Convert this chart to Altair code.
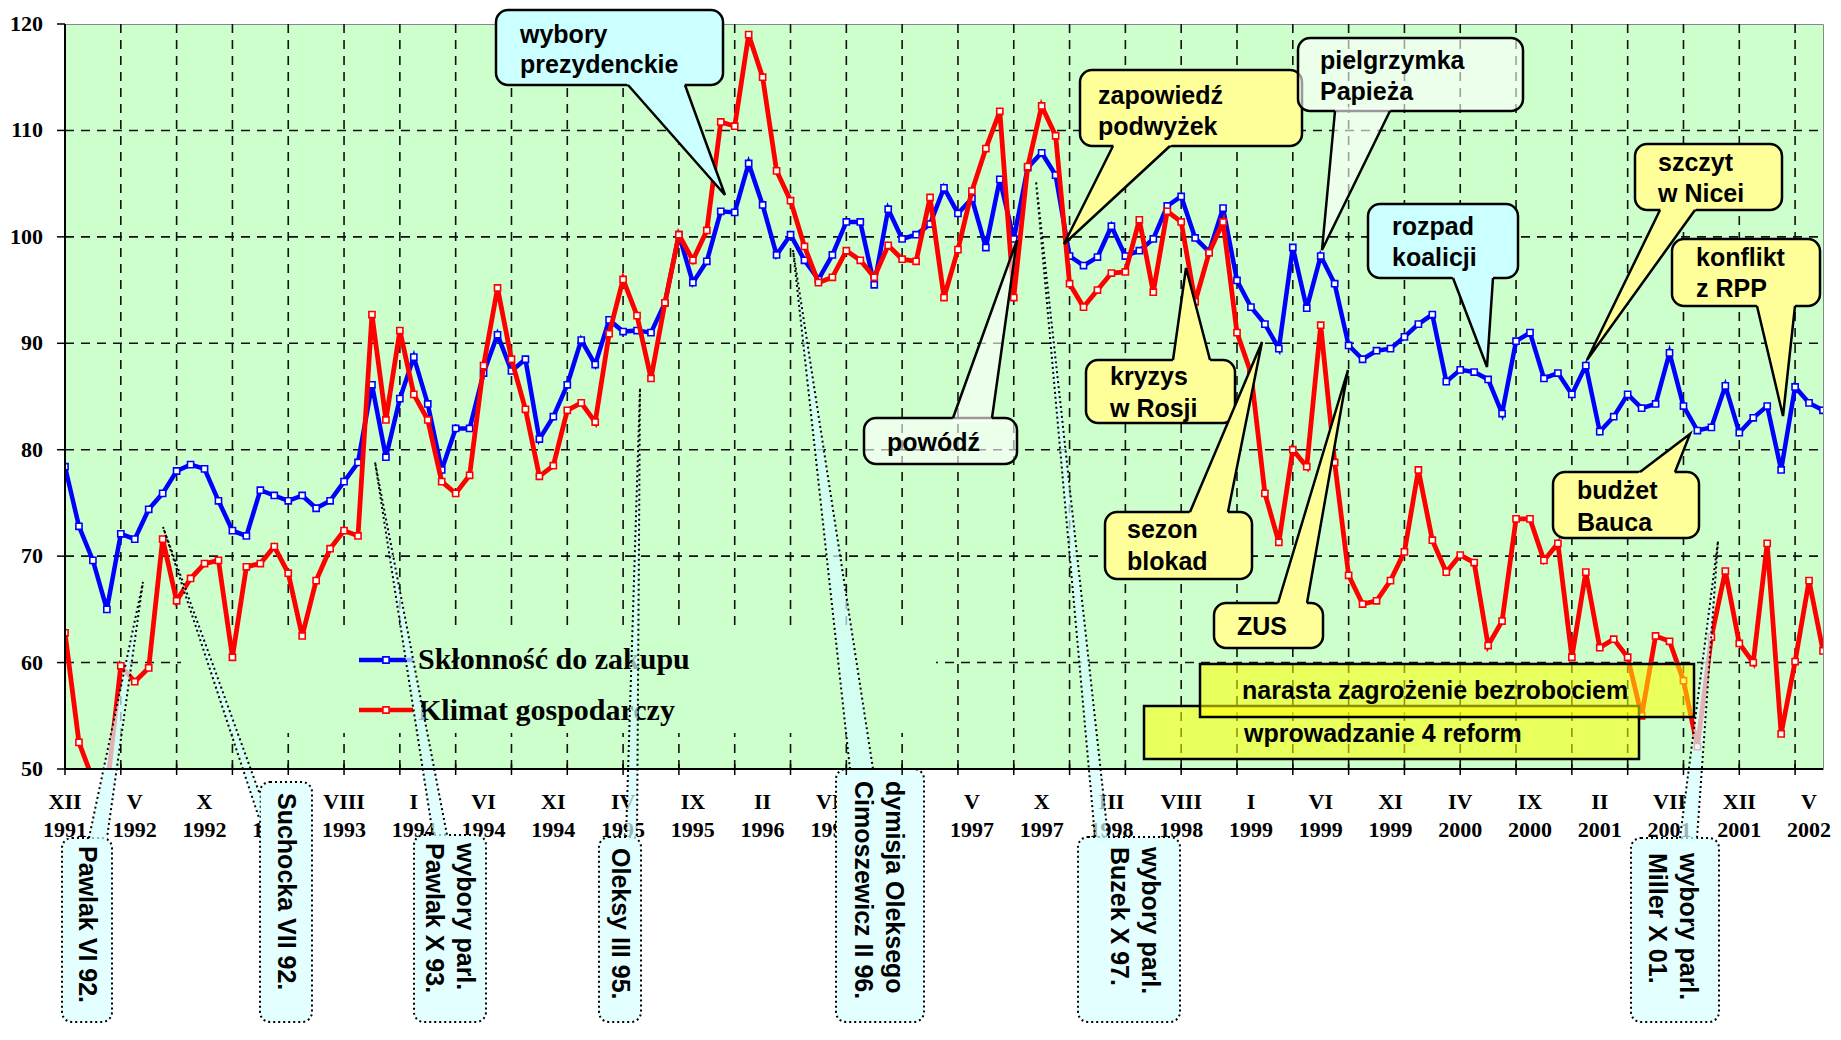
import math
import altair as alt
import pandas as pd

# ---------------- data ----------------
sklonnosc = [78.4, 72.8, 69.6, 65.0, 72.1, 71.6, 74.4, 75.9, 78.0, 78.6,
             78.2, 75.2, 72.4, 71.9, 76.2, 75.7, 75.2, 75.7, 74.5, 75.2,
             77.0, 78.8, 86.1, 79.3, 84.8, 88.7, 84.3, 78.1, 82.0, 82.0,
             87.2, 90.8, 87.4, 88.5, 81.0, 83.1, 86.1, 90.3, 88.0, 92.2,
             91.1, 91.2, 91.0, 93.8, 100.2, 95.7, 97.7, 102.4, 102.3, 106.9,
             103.0, 98.3, 100.2, 97.8, 96.0, 98.3, 101.4, 101.4, 95.5, 102.6,
             99.8, 100.2, 101.2, 104.6, 102.2, 103.6, 99.0, 105.4, 99.8, 106.5,
             107.9, 105.8, 98.2, 97.3, 98.1, 101.0, 98.2, 98.7, 99.8, 102.9,
             103.8, 99.9, 98.6, 102.7, 95.9, 93.4, 91.8, 89.5, 99.0, 93.3,
             98.2, 95.6, 89.8, 88.5, 89.3, 89.5, 90.6, 91.8, 92.7, 86.4,
             87.5, 87.3, 86.6, 83.4, 90.2, 91.0, 86.7, 87.2, 85.2, 87.9,
             81.7, 83.1, 85.2, 83.9, 84.3, 89.1, 84.1, 81.8, 82.1, 86.0,
             81.6, 83.0, 84.1, 78.1, 85.9, 84.4, 83.7]

klimat = [62.8, 52.5, 49.0, 48.0, 59.7, 58.2, 59.5, 71.6, 65.8, 67.9,
          69.3, 69.6, 60.5, 69.0, 69.3, 70.9, 68.4, 62.5, 67.7, 70.7,
          72.4, 71.9, 92.7, 82.8, 91.2, 85.2, 82.8, 77.0, 75.9, 77.6,
          87.9, 95.2, 88.5, 83.8, 77.5, 78.5, 83.7, 84.4, 82.6, 90.9,
          96.0, 92.6, 86.7, 93.8, 100.2, 97.8, 100.6, 110.8, 110.4, 119.0,
          115.0, 106.2, 103.4, 99.1, 95.7, 96.2, 98.7, 97.8, 96.2, 99.2,
          97.9, 97.7, 103.7, 94.3, 98.8, 104.3, 108.3, 111.8, 94.3, 106.6,
          112.3, 109.5, 95.6, 93.4, 95.0, 96.6, 96.7, 101.6, 94.8, 102.4,
          101.4, 93.9, 98.5, 101.4, 91.0, 87.2, 75.9, 71.3, 80.0, 78.4,
          91.7, 78.8, 68.2, 65.5, 65.8, 67.7, 70.4, 78.1, 71.5, 68.5,
          70.1, 69.4, 61.6, 63.9, 73.5, 73.5, 69.6, 71.2, 60.5, 68.5,
          61.4, 62.2, 60.5, 55.0, 62.5, 62.0, 58.3, 52.1, 62.4, 68.6,
          61.8, 60.0, 71.2, 53.3, 60.1, 67.7, 61.1]

tick_months = ["XII", "V", "X", "III", "VIII", "I", "VI", "XI", "IV", "IX",
               "II", "VII", "XII", "V", "X", "III", "VIII", "I", "VI", "XI",
               "IV", "IX", "II", "VII", "XII", "V"]
tick_years = ["1991", "1992", "1992", "1993", "1993", "1994", "1994", "1994",
              "1995", "1995", "1996", "1996", "1996", "1997", "1997", "1998",
              "1998", "1999", "1999", "1999", "2000", "2000", "2001", "2001",
              "2001", "2002"]
y_ticks = [50, 60, 70, 80, 90, 100, 110, 120]
series_names = ["Skłonność do zakupu", "Klimat gospodarczy"]

# ---------------- layout helpers ----------------
W, H = 1758, 745          # plot area
X0, Y0 = 65, 24           # page position of plot origin
N = len(sklonnosc)
XMAX = N - 1


def dx(px):
    return (px - X0) / W * XMAX


def dy(py):
    return 120 - (py - Y0) / H * 70


xs = alt.Scale(domain=[0, XMAX], nice=False, zero=False)
ys = alt.Scale(domain=[50, 120], nice=False, zero=False)


def XQ(f):
    return alt.X(f, type="quantitative", scale=xs, axis=None)


def YQ(f):
    return alt.Y(f, type="quantitative", scale=ys, axis=None)


SANS = "Liberation Sans"
SERIF = "Liberation Serif"
BLUE, RED = "#0000FF", "#FF0000"
idx = list(range(N))
one = pd.DataFrame({"a": [0]})

# ---------------- grid ----------------
gx = pd.DataFrame({"x": list(range(4, XMAX, 4))})
gy = pd.DataFrame({"v": [v for v in y_ticks if 50 < v < 120]})
grid_v = alt.Chart(gx).mark_rule(color="#111", strokeDash=[9, 7], strokeWidth=1.6).encode(
    x=XQ("x"), y=alt.value(0), y2=alt.value(H))
grid_h = alt.Chart(gy).mark_rule(color="#111", strokeDash=[9, 7], strokeWidth=1.6).encode(
    y=YQ("v"), x=alt.value(0), x2=alt.value(W))

# legend background (hides grid)
leg_bg = alt.Chart(pd.DataFrame({"x1": [dx(181)], "x2": [dx(936)], "y1": [dy(630)], "y2": [dy(733)]})) \
    .mark_rect(fill="#CCFFCC", strokeWidth=0).encode(x=XQ("x1"), x2="x2", y=YQ("y1"), y2="y2")

# ---------------- axes drawn as marks ----------------
yl = pd.DataFrame({"v": y_ticks})
y_lab = alt.Chart(yl).mark_text(align="right", baseline="middle", font=SERIF, fontWeight="bold",
                                fontSize=22, color="black").encode(
    y=YQ("v"), x=alt.value(43 - X0), text="v:Q")
y_tick = alt.Chart(yl).mark_rule(color="black", strokeWidth=1.5).encode(
    y=YQ("v"), x=alt.value(-8), x2=alt.value(0))
xt = pd.DataFrame({"x": list(range(0, XMAX + 1, 4))})
x_tick = alt.Chart(xt).mark_rule(color="black", strokeWidth=1.5).encode(
    x=XQ("x"), y=alt.value(H - 5), y2=alt.value(H + 6))
axis_left = alt.Chart(one).mark_rule(color="black", strokeWidth=2).encode(
    x=alt.value(0), y=alt.value(0), y2=alt.value(H))
axis_bottom = alt.Chart(one).mark_rule(color="black", strokeWidth=2).encode(
    x=alt.value(0), x2=alt.value(W), y=alt.value(H))

# ---------------- series ----------------
df_b = pd.DataFrame({"i": idx, "v": sklonnosc})
df_r = pd.DataFrame({"i": idx, "v": klimat})

blue_line = alt.Chart(df_b).mark_line(color=BLUE, strokeWidth=4.5, clip=True).encode(
    x=XQ("i"), y=YQ("v"))
blue_pts = alt.Chart(df_b).mark_square(size=38, fill="white", stroke=BLUE, strokeWidth=1.6,
                                       opacity=1, clip=True).encode(x=XQ("i"), y=YQ("v"))
red_line = alt.Chart(df_r).mark_line(color=RED, strokeWidth=4.8, clip=True).encode(
    x=XQ("i"), y=YQ("v"))
red_pts = alt.Chart(df_r).mark_square(size=38, fill="white", stroke=RED, strokeWidth=1.6,
                                      opacity=1, clip=True).encode(x=XQ("i"), y=YQ("v"))

# ---------------- legend ----------------
leg = pd.DataFrame({"x1": [dx(359), dx(359)], "x2": [dx(413), dx(413)], "xm": [dx(386), dx(386)],
                    "y": [dy(660), dy(710)], "ty": [dy(669), dy(720)], "tx": [dx(418), dx(418)],
                    "name": series_names, "col": [BLUE, RED]})
leg_lines = alt.Chart(leg).mark_rule(strokeWidth=4.5).encode(
    x=XQ("x1"), x2="x2", y=YQ("y"), color=alt.Color("col:N", scale=None))
leg_pts = alt.Chart(leg).mark_square(size=38, fill="white", strokeWidth=1.6, opacity=1).encode(
    x=XQ("xm"), y=YQ("y"), stroke=alt.Stroke("col:N", scale=None))
leg_txt = alt.Chart(leg).mark_text(align="left", baseline="alphabetic", font=SERIF,
                                   fontWeight="bold", fontSize=30, color="black").encode(
    x=XQ("tx"), y=YQ("ty"), text="name:N")

# ---------------- x tick labels ----------------
lab = pd.DataFrame({"i": list(range(0, 5 * len(tick_months), 5)), "m": tick_months, "yr": tick_years})
lab_m = alt.Chart(lab).mark_text(align="center", baseline="alphabetic", font=SERIF,
                                 fontWeight="bold", fontSize=22, color="black").encode(
    x=XQ("i"), y=alt.value(809 - Y0), text="m:N")
lab_y = alt.Chart(lab).mark_text(align="center", baseline="alphabetic", font=SERIF,
                                 fontWeight="bold", fontSize=22, color="black").encode(
    x=XQ("i"), y=alt.value(837 - Y0), text="yr:N")


# ---------------- callout helpers ----------------
def tri_rows(cid, b1, b2, tip, color, op, ext=4.0):
    def extend(b):
        vx, vy = b[0] - tip[0], b[1] - tip[1]
        L = math.hypot(vx, vy)
        return (b[0] + vx / L * ext, b[1] + vy / L * ext)
    pts = sorted([extend(b1), extend(b2), tip], key=lambda p: p[0])
    (x1, y1), (x2, y2), (x3, y3) = pts
    if x2 - x1 < 0.05:
        x2 = x1 + 0.05
    if x3 - x2 < 0.05:
        x3 = x2 + 0.05
    yi = y1 + (y3 - y1) * (x2 - x1) / (x3 - x1)
    return [dict(id=cid, x=dx(a), y=dy(b), y2=dy(c), c=color, o=op)
            for a, b, c in [(x1, y1, y1), (x2, y2, yi), (x3, y3, y3)]]


def side_rows(cid, b1, b2, tip):
    return [dict(id=cid, s=k, x=dx(p[0]), y=dy(p[1])) for k, p in enumerate([b1, tip, b2])]


def box_row(b, color, op):
    return dict(x1=dx(b[0]), y1=dy(b[1]), x2=dx(b[2]), y2=dy(b[3]), c=color, o=op)


BOT = 1022
LH = 31
# vertical (rotated) labels below the axis
dotted = [
    dict(box=(62, 838, 112, BOT), w=((89, 838), (107, 838), (143, 582)), tx=87, ty=846,
         text="Pawlak VI 92."),
    dict(box=(260, 782, 312, BOT), w=((259, 792), (259, 818), (163, 527)), tx=286, ty=793,
         text="Suchocka VII 92."),
    dict(box=(414, 835, 486, BOT), w=((433, 835), (447, 835), (375, 462)), tx=449, ty=843,
         text="wybory parl.\nPawlak X 93."),
    dict(box=(599, 837, 641, BOT), w=((626, 837), (637, 837), (640, 388)), tx=620, ty=848,
         text="Oleksy III 95."),
    dict(box=(836, 769, 924, BOT), w=((850, 769), (873, 769), (793, 250)), tx=878, ty=781,
         text="dymisja Oleksego\nCimoszewicz II 96."),
    dict(box=(1078, 837, 1180, BOT), w=((1095, 837), (1108, 837), (1036, 181)), tx=1134, ty=847,
         text="wybory parl.\nBuzek X 97."),
    dict(box=(1631, 838, 1719, BOT), w=((1680, 838), (1697, 838), (1718, 541)), tx=1672, ty=853,
         text="wybory parl.\nMiller X 01."),
]

CYAN, YEL = "#CCFFFF", "#FFFF99"
solid = [
    dict(box=(496, 10, 723, 85), fill=CYAN, op=1, w=((628, 85), (685, 85), (725, 195)),
         lines=[(520, 43, "wybory"), (520, 73, "prezydenckie")]),
    dict(box=(1080, 70, 1302, 146), fill=YEL, op=1, w=((1113, 146), (1170, 146), (1064, 244)),
         lines=[(1098, 104, "zapowiedź"), (1098, 135, "podwyżek")]),
    dict(box=(1298, 38, 1523, 111), fill="#FFFFFF", op=0.6, w=((1335, 111), (1390, 111), (1322, 250)),
         lines=[(1320, 69, "pielgrzymka"), (1320, 100, "Papieża")]),
    dict(box=(1368, 204, 1518, 278), fill=CYAN, op=1, w=((1453, 278), (1493, 278), (1487, 367)),
         lines=[(1392, 235, "rozpad"), (1392, 266, "koalicji")]),
    dict(box=(1635, 144, 1782, 210), fill=YEL, op=1, w=((1660, 210), (1695, 210), (1587, 360)),
         lines=[(1658, 171, "szczyt"), (1658, 202, "w Nicei")]),
    dict(box=(1672, 239, 1820, 306), fill=YEL, op=1, w=((1757, 306), (1795, 306), (1783, 416)),
         lines=[(1696, 266, "konflikt"), (1696, 297, "z RPP")]),
    dict(box=(1086, 360, 1235, 423), fill=YEL, op=1, w=((1173, 360), (1210, 360), (1186, 268)),
         lines=[(1110, 385, "kryzys"), (1110, 417, "w Rosji")]),
    dict(box=(864, 418, 1017, 464), fill="#FFFFFF", op=0.6, w=((953, 418), (992, 418), (1017, 240)),
         lines=[(887, 451, "powódź")]),
    dict(box=(1105, 512, 1252, 579), fill=YEL, op=1, w=((1190, 512), (1228, 512), (1262, 342)),
         lines=[(1127, 538, "sezon"), (1127, 570, "blokad")]),
    dict(box=(1214, 603, 1323, 648), fill=YEL, op=1, w=((1278, 603), (1307, 603), (1348, 370)),
         lines=[(1237, 635, "ZUS")]),
    dict(box=(1553, 472, 1699, 538), fill=YEL, op=1, w=((1640, 472), (1675, 472), (1690, 434)),
         lines=[(1577, 499, "budżet"), (1577, 531, "Bauca")]),
]

reforms = [
    dict(box=(1144, 706, 1639, 759), tx=1244, ty=742, text="wprowadzanie 4 reform"),
    dict(box=(1200, 664, 1694, 717), tx=1242, ty=699, text="narasta zagrożenie bezrobociem"),
]

# ---- dotted callouts layers ----
d_boxes = pd.DataFrame([box_row(d["box"], "#E4FFFF", 1) for d in dotted])
d_tris, d_sides, d_txt = [], [], []
for k, d in enumerate(dotted):
    b1, b2, tip = d["w"]
    d_tris += tri_rows(k, b1, b2, tip, "#D6FFFF", 0.7)
    d_sides += side_rows(k, b1, b2, tip)
    nlines = d["text"].count("\n") + 1
    # first line sits at the anchor; later lines go to its left -> centre the block
    tx = d["tx"] + (nlines - 1) * LH / 2
    d_txt.append(dict(x=dx(tx), y=dy(d["ty"]), t=d["text"]))
d_tris, d_sides, d_txt = pd.DataFrame(d_tris), pd.DataFrame(d_sides), pd.DataFrame(d_txt)

dot_box = alt.Chart(d_boxes).mark_rect(cornerRadius=10, stroke="black", strokeWidth=2,
                                       strokeDash=[2, 3]).encode(
    x=XQ("x1"), x2="x2", y=YQ("y1"), y2="y2",
    fill=alt.Fill("c:N", scale=None), fillOpacity=alt.FillOpacity("o:Q", scale=None))
dot_tri = alt.Chart(d_tris).mark_area(orient="vertical", strokeWidth=0).encode(
    x=XQ("x"), y=YQ("y"), y2="y2", detail="id:N",
    fill=alt.Fill("c:N", scale=None), fillOpacity=alt.FillOpacity("o:Q", scale=None))
dot_side = alt.Chart(d_sides).mark_line(color="black", strokeWidth=2, strokeDash=[2, 3]).encode(
    x=XQ("x"), y=YQ("y"), detail="id:N", order="s:Q")
dot_text = alt.Chart(d_txt).mark_text(angle=90, align="left", baseline="middle", lineBreak="\n",
                                      lineHeight=LH, font=SANS, fontWeight="bold", fontSize=25,
                                      color="black").encode(x=XQ("x"), y=YQ("y"), text="t:N")

# ---- solid callouts layers ----
s_boxes = pd.DataFrame([box_row(s["box"], s["fill"], s["op"]) for s in solid])
s_tris, s_sides, s_txt = [], [], []
for k, s in enumerate(solid):
    b1, b2, tip = s["w"]
    s_tris += tri_rows(k, b1, b2, tip, s["fill"], s["op"])
    s_sides += side_rows(k, b1, b2, tip)
    for (tx, ty, t) in s["lines"]:
        s_txt.append(dict(x=dx(tx), y=dy(ty), t=t))
s_tris, s_sides, s_txt = pd.DataFrame(s_tris), pd.DataFrame(s_sides), pd.DataFrame(s_txt)

sol_box = alt.Chart(s_boxes).mark_rect(cornerRadius=12, stroke="black", strokeWidth=2.5).encode(
    x=XQ("x1"), x2="x2", y=YQ("y1"), y2="y2",
    fill=alt.Fill("c:N", scale=None), fillOpacity=alt.FillOpacity("o:Q", scale=None))
sol_tri = alt.Chart(s_tris).mark_area(orient="vertical", strokeWidth=0).encode(
    x=XQ("x"), y=YQ("y"), y2="y2", detail="id:N",
    fill=alt.Fill("c:N", scale=None), fillOpacity=alt.FillOpacity("o:Q", scale=None))
sol_side = alt.Chart(s_sides).mark_line(color="black", strokeWidth=2.5).encode(
    x=XQ("x"), y=YQ("y"), detail="id:N", order="s:Q")
sol_text = alt.Chart(s_txt).mark_text(align="left", baseline="alphabetic", font=SANS,
                                      fontWeight="bold", fontSize=25, color="black").encode(
    x=XQ("x"), y=YQ("y"), text="t:N")

# ---- reform boxes ----
r_boxes = pd.DataFrame([dict(box_row(r["box"], "#FFFF00", 0.55), k=k) for k, r in enumerate(reforms)])
r_txt = pd.DataFrame([dict(x=dx(r["tx"]), y=dy(r["ty"]), t=r["text"]) for r in reforms])
ref_layers = []
for k in range(len(reforms)):
    ref_layers.append(
        alt.Chart(r_boxes[r_boxes.k == k]).mark_rect(stroke="black", strokeWidth=2.5,
                                                     fill="#FFFF00", fillOpacity=0.55).encode(
            x=XQ("x1"), x2="x2", y=YQ("y1"), y2="y2"))
ref_text = alt.Chart(r_txt).mark_text(align="left", baseline="alphabetic", font=SANS,
                                      fontWeight="bold", fontSize=25, color="black").encode(
    x=XQ("x"), y=YQ("y"), text="t:N")

chart = alt.layer(
    grid_v, grid_h, leg_bg,
    blue_line, blue_pts, red_line, red_pts,
    leg_lines, leg_pts, leg_txt,
    lab_m, lab_y,
    dot_box, dot_tri, dot_side, dot_text,
    axis_left, axis_bottom, x_tick, y_tick, y_lab,
    sol_box, sol_tri, sol_side, sol_text,
    *ref_layers, ref_text,
).properties(
    width=W, height=H,
    padding={"left": 57, "top": 16, "right": 10, "bottom": 254},
    autosize=alt.AutoSizeParams(type="none"),
    background="white",
).configure_view(fill="#CCFFCC", stroke="#888888", strokeWidth=1)

chart.save("out.html", embed_options={"renderer": "svg", "actions": False})
